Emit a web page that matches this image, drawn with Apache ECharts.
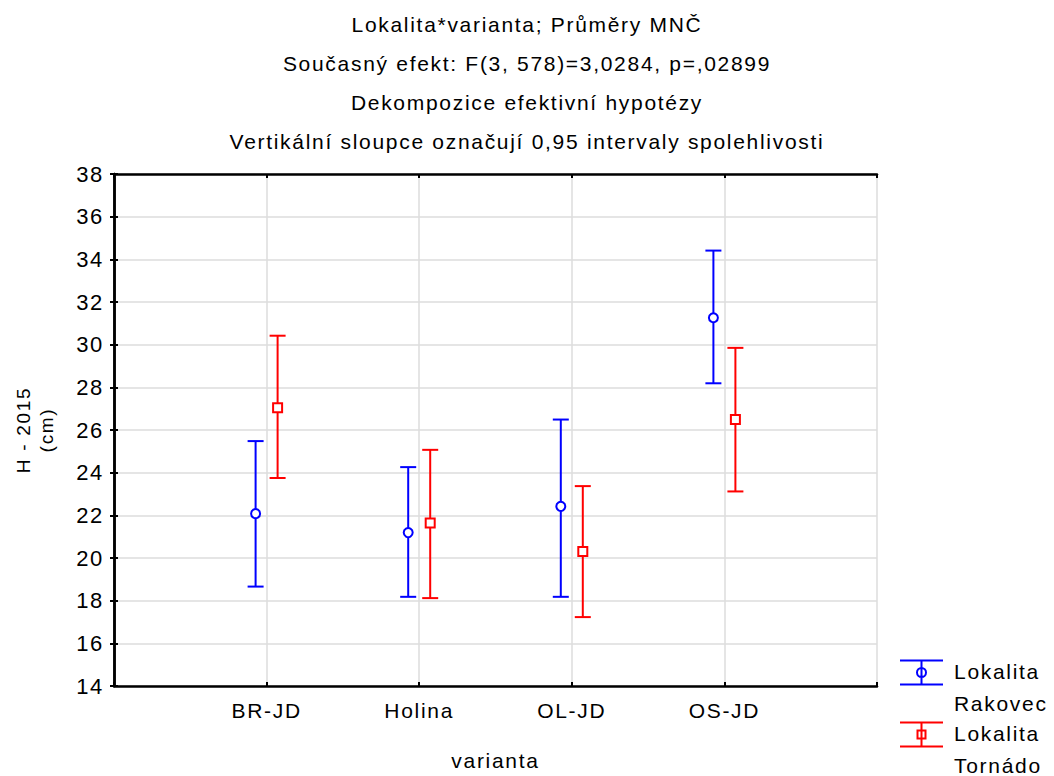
<!DOCTYPE html>
<html>
<head>
<meta charset="utf-8">
<script src="https://cdn.jsdelivr.net/npm/echarts@6/dist/echarts.min.js"></script>
<style>
html,body{margin:0;padding:0;background:#fff}
#c{width:1054px;height:776px}
#c svg text{letter-spacing:1.7px}
</style>
</head>
<body>
<div id="c"></div>
<script>
const categories = ['BR-JD', 'Holina', 'OL-JD', 'OS-JD'];
const seriesNames = ['Lokalita\nRakovec', 'Lokalita\nTornádo'];
const rakovecMean = [22.08, 21.19, 22.42, 31.26];
const rakovecLow  = [18.66, 18.18, 18.18, 28.19];
const rakovecHigh = [25.48, 24.26, 26.49, 34.41];
const tornadoMean = [27.04, 21.64, 20.30, 26.49];
const tornadoLow  = [23.75, 18.12, 17.23, 23.12];
const tornadoHigh = [30.42, 25.07, 23.37, 29.85];
const yTicks = [14, 16, 18, 20, 22, 24, 26, 28, 30, 32, 34, 36, 38];
const titleLines = [
  'Lokalita*varianta; Průměry MNČ',
  'Současný efekt: F(3, 578)=3,0284, p=,02899',
  'Dekompozice efektivní hypotézy',
  'Vertikální sloupce označují 0,95 intervaly spolehlivosti'
];

const FONT = '"Liberation Sans", Arial, sans-serif';
const FS = 21;

function build(mean, low, high) {
  return categories.map((c, i) => [i + 1, mean[i], low[i], high[i]]);
}

function makeRender(offset, shape) {
  return function (params, api) {
    const x = api.value(0);
    const pm = api.coord([x, api.value(1)]);
    const pl = api.coord([x, api.value(2)]);
    const ph = api.coord([x, api.value(3)]);
    const cx = pm[0] + offset;
    const color = api.visual('color');
    const ls = { stroke: color, lineWidth: 2, fill: null };
    const cap = 8;
    const children = [
      { type: 'line', shape: { x1: cx, y1: ph[1], x2: cx, y2: pl[1] }, style: ls },
      { type: 'line', shape: { x1: cx - cap, y1: ph[1], x2: cx + cap, y2: ph[1] }, style: ls },
      { type: 'line', shape: { x1: cx - cap, y1: pl[1], x2: cx + cap, y2: pl[1] }, style: ls }
    ];
    if (shape === 'circle') {
      children.push({ type: 'circle', shape: { cx: cx, cy: pm[1], r: 4.5 }, style: { stroke: color, lineWidth: 2, fill: '#fff' } });
    } else {
      children.push({ type: 'rect', shape: { x: cx - 4.5, y: pm[1] - 4.5, width: 9, height: 9 }, style: { stroke: color, lineWidth: 2, fill: '#fff' } });
    }
    return { type: 'group', children: children };
  };
}

// legend icons (error bar glyphs), bbox 0..49 x 0..64
const bboxPts = 'M0,0 L0,0 Z M49,64 L49,64 Z ';
const bars = 'M0,4.5 L43,4.5 L43,6.5 L0,6.5 Z M0,28.5 L43,28.5 L43,30.5 L0,30.5 Z M20.5,6.5 L22.5,6.5 L22.5,28.5 L20.5,28.5 Z ';
const circleIcon = 'path://' + bboxPts + bars +
  'M16,17.5 A5.5,5.5 0 1,1 27,17.5 A5.5,5.5 0 1,1 16,17.5 Z M18,17.5 A3.5,3.5 0 1,0 25,17.5 A3.5,3.5 0 1,0 18,17.5 Z';
const squareIcon = 'path://' + bboxPts + bars +
  'M16.5,12.5 L26.5,12.5 L26.5,22.5 L16.5,22.5 Z M18.5,14.5 L18.5,20.5 L24.5,20.5 L24.5,14.5 Z';

const chart = echarts.init(document.getElementById('c'), null, { renderer: 'svg' });
const axisLine = { show: true, lineStyle: { color: '#000', width: 2.5 } };
const tick = { show: true, inside: true, length: 4, lineStyle: { color: '#000', width: 2 } };

chart.setOption({
  animation: false,
  backgroundColor: '#fff',
  textStyle: { fontFamily: FONT },
  title: {
    text: titleLines.join('\n'),
    left: 'center',
    top: 0,
    textStyle: { fontFamily: FONT, fontSize: FS, fontWeight: 'normal', color: '#000', lineHeight: 39 }
  },
  legend: {
    orient: 'vertical',
    left: 900,
    top: 655,
    height: 140,
    padding: 0,
    itemGap: -2,
    itemWidth: 49,
    itemHeight: 64,
    itemStyle: { borderWidth: 0 },
    textStyle: { fontFamily: FONT, fontSize: FS, color: '#000', lineHeight: 32 },
    data: [
      { name: seriesNames[0], icon: circleIcon },
      { name: seriesNames[1], icon: squareIcon }
    ]
  },
  grid: { left: 114, right: 177, top: 174, bottom: 89, containLabel: false },
  xAxis: [
    {
      type: 'value', min: 0, max: 5, interval: 1, position: 'bottom',
      name: 'varianta', nameLocation: 'middle', nameGap: 64,
      nameTextStyle: { fontFamily: FONT, fontSize: FS, color: '#000' },
      axisLine: axisLine, axisTick: tick,
      axisLabel: {
        margin: 14, fontFamily: FONT, fontSize: FS, color: '#000',
        formatter: v => categories[v - 1] || ''
      },
      splitLine: { show: true, lineStyle: { color: '#dcdcdc', width: 1.5 } }
    },
    {
      type: 'value', min: 0, max: 5, interval: 1, position: 'top',
      axisLine: axisLine, axisTick: tick, axisLabel: { show: false }, splitLine: { show: false }
    }
  ],
  yAxis: [
    {
      type: 'value', min: yTicks[0], max: yTicks[yTicks.length - 1], interval: 2, position: 'left',
      name: 'H - 2015\n(cm)', nameLocation: 'middle', nameGap: 56, nameRotate: 90,
      nameTextStyle: { fontFamily: FONT, fontSize: 19, color: '#000', lineHeight: 23 },
      axisLine: axisLine, axisTick: tick,
      axisLabel: { margin: 10, fontFamily: FONT, fontSize: 22, color: '#000' },
      splitLine: { show: true, lineStyle: { color: '#dcdcdc', width: 1.5 } }
    },
    {
      type: 'value', min: yTicks[0], max: yTicks[yTicks.length - 1], interval: 2, position: 'right',
      axisLine: axisLine, axisTick: tick, axisLabel: { show: false }, splitLine: { show: false }
    }
  ],
  series: [
    {
      name: seriesNames[0], type: 'custom', xAxisIndex: 0, yAxisIndex: 0,
      itemStyle: { color: '#0000ff' },
      encode: { x: 0, y: [1, 2, 3] },
      renderItem: makeRender(-11, 'circle'),
      data: build(rakovecMean, rakovecLow, rakovecHigh),
      z: 3
    },
    {
      name: seriesNames[1], type: 'custom', xAxisIndex: 0, yAxisIndex: 0,
      itemStyle: { color: '#ff0000' },
      encode: { x: 0, y: [1, 2, 3] },
      renderItem: makeRender(11, 'square'),
      data: build(tornadoMean, tornadoLow, tornadoHigh),
      z: 3
    }
  ]
});
</script>
</body>
</html>
